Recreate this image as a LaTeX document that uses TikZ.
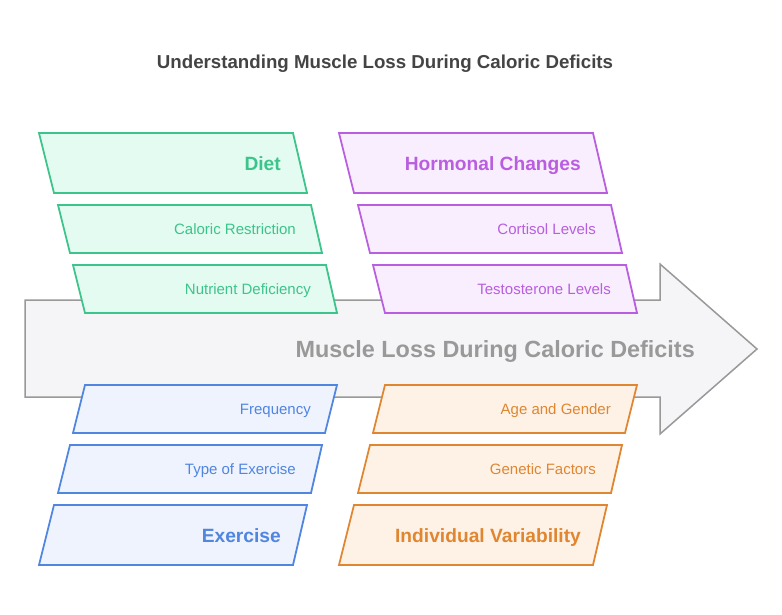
\documentclass[tikz,border=0pt]{standalone}
\usepackage{fontspec}
\setmainfont{Liberation Sans}
\definecolor{gstroke}{RGB}{61,196,138}
\definecolor{gfill}{RGB}{227,251,241}
\definecolor{pstroke}{RGB}{185,94,224}
\definecolor{pfill}{RGB}{248,238,253}
\definecolor{bstroke}{RGB}{80,133,224}
\definecolor{bfill}{RGB}{238,243,254}
\definecolor{ostroke}{RGB}{224,134,48}
\definecolor{ofill}{RGB}{254,242,230}
\definecolor{arrowfill}{RGB}{245,244,247}
\definecolor{arrowline}{RGB}{153,153,153}
\definecolor{titlecol}{RGB}{68,68,68}
\tikzset{
  gbox/.style={draw=gstroke,fill=gfill,line width=1.8pt,line join=miter},
  pbox/.style={draw=pstroke,fill=pfill,line width=1.8pt,line join=miter},
  bbox/.style={draw=bstroke,fill=bfill,line width=1.8pt,line join=miter},
  obox/.style={draw=ostroke,fill=ofill,line width=1.8pt,line join=miter},
  head/.style={anchor=base east,inner sep=0pt,font=\fontsize{19.2}{22}\selectfont\bfseries},
  item/.style={anchor=base east,inner sep=0pt,font=\fontsize{15}{18}\selectfont},
}
\begin{document}
\begin{tikzpicture}[x=1pt,y=-1pt]
\useasboundingbox (0,0) rectangle (782,614);
\fill[white] (0,0) rectangle (782,614);
\node[font=\fontsize{18.7}{22}\selectfont\bfseries,text=titlecol,inner sep=0pt,anchor=base] (title) at (385,68) {Understanding Muscle Loss During Caloric Deficits};
% main arrow
\draw[fill=arrowfill,draw=arrowline,line width=1.5pt,line join=miter]
  (25,300) -- (660,300) -- (660,264) -- (757,349) -- (660,434) -- (660,397) -- (25,397) -- cycle;
\node[anchor=base east,inner sep=0pt,font=\fontsize{23.4}{27}\selectfont\bfseries,text=arrowline] (main) at (695,357) {Muscle Loss During Caloric Deficits};
% green
\draw[gbox] (39,133) -- (293,133) -- (307,193) -- (54,193) -- cycle;
\draw[gbox] (58,205) -- (311,205) -- (322,253) -- (70,253) -- cycle;
\draw[gbox] (73,265) -- (326,265) -- (337,313) -- (85,313) -- cycle;
\node[head,text=gstroke] (diet) at (281,170) {Diet};
\node[item,text=gstroke] (cal) at (296,234) {Caloric Restriction};
\node[item,text=gstroke] (nut) at (311,294) {Nutrient Deficiency};
% purple
\draw[pbox] (339,133) -- (593,133) -- (607,193) -- (354,193) -- cycle;
\draw[pbox] (358,205) -- (611,205) -- (622,253) -- (370,253) -- cycle;
\draw[pbox] (373,265) -- (626,265) -- (637,313) -- (385,313) -- cycle;
\node[head,text=pstroke] (horm) at (581,170) {Hormonal Changes};
\node[item,text=pstroke] (cort) at (596,234) {Cortisol Levels};
\node[item,text=pstroke] (test) at (611,294) {Testosterone Levels};
% blue
\draw[bbox] (85,385) -- (337,385) -- (325,433) -- (73,433) -- cycle;
\draw[bbox] (70,445) -- (322,445) -- (311,493) -- (58,493) -- cycle;
\draw[bbox] (54,505) -- (307,505) -- (293,565) -- (39,565) -- cycle;
\node[item,text=bstroke] (freq) at (311,414) {Frequency};
\node[item,text=bstroke] (type) at (296,474) {Type of Exercise};
\node[head,text=bstroke] (exer) at (281,542) {Exercise};
% orange
\draw[obox] (385,385) -- (637,385) -- (625,433) -- (373,433) -- cycle;
\draw[obox] (370,445) -- (622,445) -- (611,493) -- (358,493) -- cycle;
\draw[obox] (354,505) -- (607,505) -- (593,565) -- (339,565) -- cycle;
\node[item,text=ostroke] (age) at (611,414) {Age and Gender};
\node[item,text=ostroke] (gen) at (596,474) {Genetic Factors};
\node[head,text=ostroke] (indiv) at (581,542) {Individual Variability};
\end{tikzpicture}
\end{document}
